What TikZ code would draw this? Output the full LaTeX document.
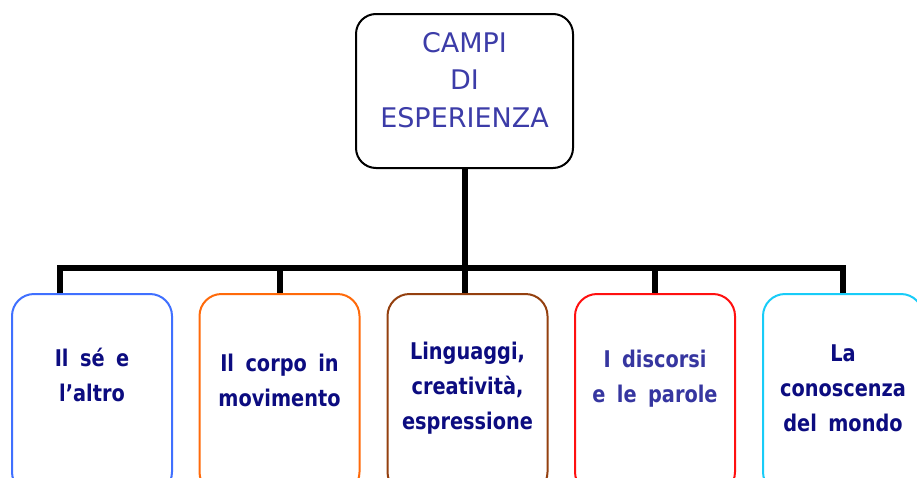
\documentclass[tikz,border=0pt]{standalone}
\usepackage{fontspec}
\setmainfont{DejaVu Sans}
\newfontfamily\fieldfont{DejaVu Sans}[FakeStretch=0.84, WordSpace=1.7]
\definecolor{topblue}{HTML}{3C3CA8}
\definecolor{navy}{HTML}{0C0C80}
\definecolor{midblue}{HTML}{3636A0}
\definecolor{cblue}{HTML}{4070FF}
\definecolor{corange}{HTML}{FF6A0A}
\definecolor{cbrown}{HTML}{94400F}
\definecolor{cred}{HTML}{FF1010}
\definecolor{ccyan}{HTML}{18CCF8}
\tikzset{
  topbox/.style={draw=black, line width=2pt, rounded corners=20pt, fill=white,
    minimum width=217pt, minimum height=154pt, inner sep=0pt},
  fieldbox/.style={draw=#1, line width=2pt, rounded corners=22pt, fill=white,
    minimum width=160pt, minimum height=200pt, inner sep=0pt},
  conn/.style={line width=6pt, line join=miter, line cap=butt},
  toptext/.style={font=\fontsize{27}{37.5}\selectfont, text=topblue, align=center},
  fieldtext/.style={font=\fieldfont\bfseries\fontsize{23}{35}\selectfont, text=#1, align=center},
}
\begin{document}
\begin{tikzpicture}[x=1pt, y=-1pt]
\useasboundingbox (0,0) rectangle (917,477);
\coordinate (L) at (60,268);
\coordinate (R) at (843,268);
\node[topbox] (top) at (464.5,91) {};
\node[fieldbox=cblue]   (b1) at (92,394) {};
\node[fieldbox=corange] (b2) at (279.5,394) {};
\node[fieldbox=cbrown]  (b3) at (467.5,394) {};
\node[fieldbox=cred]    (b4) at (655,394) {};
\node[fieldbox=ccyan]   (b5) at (843,394) {};
\draw[conn] (L |- b1.north) -- (L) -- (R) -- (R |- b5.north);
\draw[conn] (top.south) -- (top.south |- b3.north);
\draw[conn] (b2.north |- L) -- (b2.north);
\draw[conn] (b4.north |- L) -- (b4.north);
\node[toptext] (tt) at (464.5,80) {CAMPI\\DI\\ESPERIENZA};
\node[fieldtext=navy]    (t1) at (92,375)    {Il sé e\\l’altro};
\node[fieldtext=navy]    (t2) at (279.5,380) {Il corpo in\\movimento};
\node[fieldtext=navy]    (t3) at (467.5,388) {Linguaggi,\\creatività,\\espressione};
\node[fieldtext=midblue] (t4) at (655,379)   {I discorsi\\e le parole};
\node[fieldtext=navy]    (t5) at (843,388)   {La\\conoscenza\\del mondo};
\end{tikzpicture}
\end{document}
